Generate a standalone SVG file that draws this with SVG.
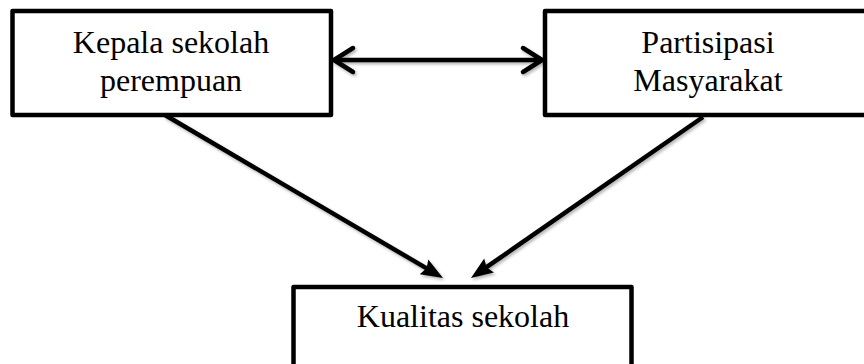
<svg xmlns="http://www.w3.org/2000/svg" width="864" height="364" viewBox="0 0 864 364">
  <style>
    .box { fill: #ffffff; stroke: #000000; stroke-width: 4.5; stroke-linejoin: round; }
    .label { font-family: "Liberation Serif", "Times New Roman", serif; font-size: 32px; fill: #000000; text-anchor: middle; }
    .link { fill: none; stroke: #000000; stroke-width: 4.5; }
  </style>
  <defs>
    <filter id="shade" x="-10%" y="-10%" width="120%" height="130%">
      <feDropShadow dx="1.5" dy="2" stdDeviation="1.6" flood-color="#000000" flood-opacity="0.3"/>
    </filter>
    <!-- solid head for the one-way links -->
    <marker id="head" markerUnits="userSpaceOnUse" markerWidth="26" markerHeight="22" viewBox="0 -11 26 22" refX="11" refY="0" orient="auto" overflow="visible">
      <path d="M0,-8.5 L22,0 L0,8.5 L3,0 Z" fill="#000000"/>
    </marker>
    <!-- open chevron for the two-way link -->
    <marker id="chev" markerUnits="userSpaceOnUse" markerWidth="30" markerHeight="34" viewBox="-25 -17 30 34" refX="0" refY="0" orient="auto-start-reverse" overflow="visible">
      <path d="M-19,-12 L0,0 L-19,12" fill="none" stroke="#000000" stroke-width="4.5" stroke-linecap="round" stroke-linejoin="round"/>
    </marker>
  </defs>

  <g id="node-kepala">
    <rect class="box" x="12.5" y="11" width="318.5" height="104"/>
    <text class="label" x="171" y="53">Kepala sekolah</text>
    <text class="label" x="171" y="91">perempuan</text>
  </g>

  <g id="node-partisipasi">
    <rect class="box" x="545" y="11" width="330" height="104"/>
    <text class="label" x="708" y="53">Partisipasi</text>
    <text class="label" x="708" y="91">Masyarakat</text>
  </g>

  <g id="node-kualitas">
    <rect class="box" x="293.5" y="287" width="338" height="100"/>
    <text class="label" x="463" y="327">Kualitas sekolah</text>
  </g>

  <g id="connectors" filter="url(#shade)">
    <line class="link" x1="334" y1="60" x2="542" y2="60" marker-start="url(#chev)" marker-end="url(#chev)"/>
    <line class="link" x1="165" y1="115" x2="433.5" y2="272.4" marker-end="url(#head)"/>
    <line class="link" x1="703" y1="117" x2="480" y2="271.7" marker-end="url(#head)"/>
  </g>
</svg>
